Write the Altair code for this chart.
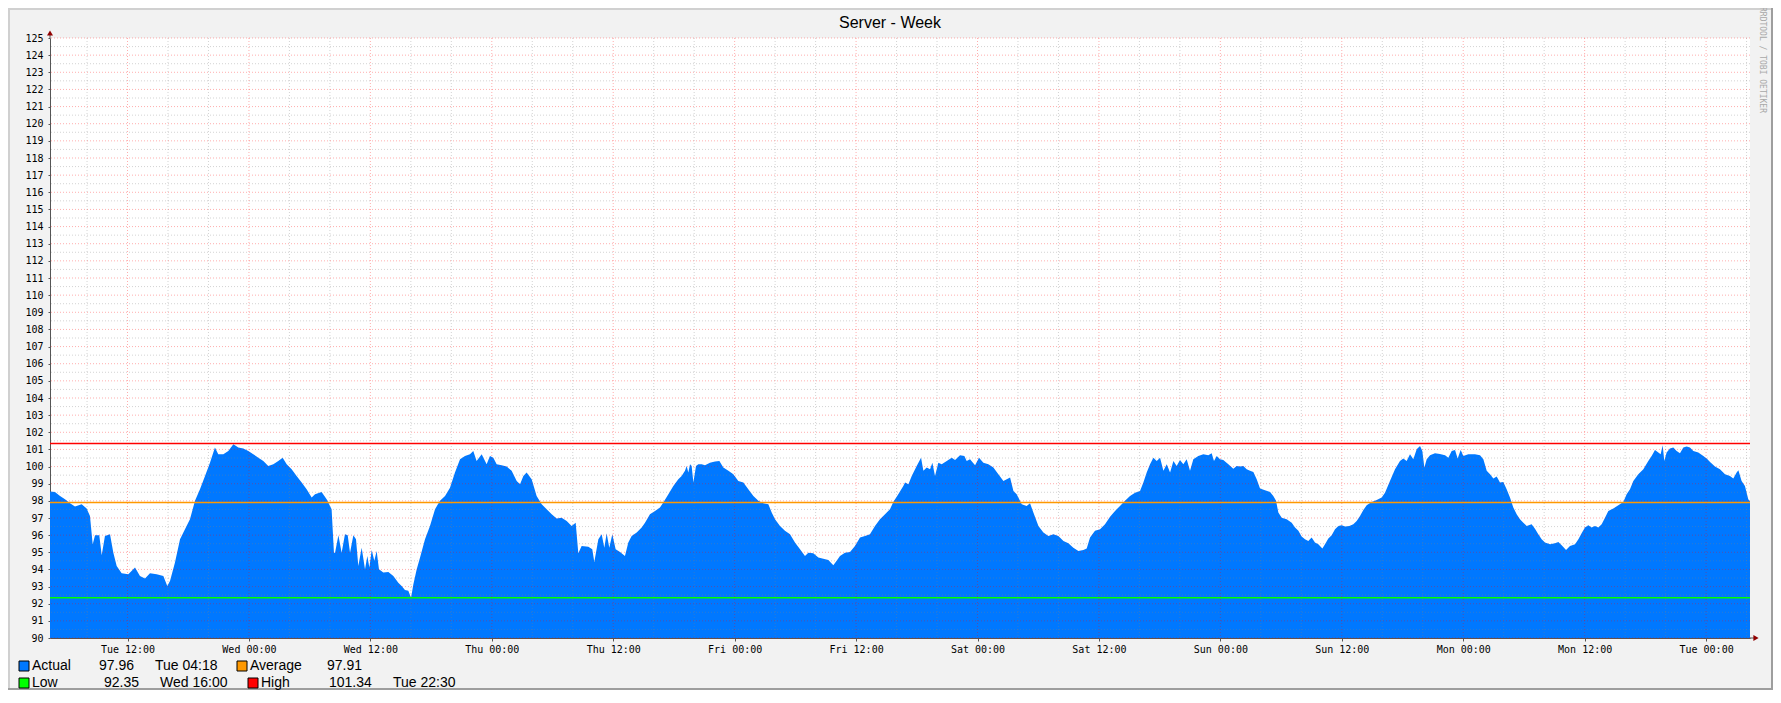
import altair as alt
import pandas as pd

# ---------------- text ----------------
title_text = "Server - Week"
credit_text = "RRDTOOL / TOBI OETIKER"
day_names = ["Tue", "Wed", "Thu", "Fri", "Sat", "Sun", "Mon", "Tue"]

# time axis: hours counted from Tue 00:00 of the first day
x_start, x_end = 4.34, 172.34
y_min, y_max = 90, 125

# ---------------- series ----------------
hours_a = [4.0, 4.34, 4.83, 5.33, 5.82, 6.32, 6.81, 7.47, 7.96, 8.29,
           8.56, 8.79, 9.21, 9.45, 9.77, 10.27, 10.60, 10.93, 11.42, 12.08,
           12.74, 13.23, 13.73, 14.22, 14.88, 15.54, 15.93, 16.20, 16.69, 17.19,
           17.68, 18.17, 18.67, 19.16, 19.66, 20.15, 20.64, 20.97, 21.47, 21.96,
           22.46, 22.95, 23.44, 23.94, 24.43, 24.93, 25.42, 25.91, 26.41, 26.90,
           27.33, 27.73, 28.22, 28.71, 29.21, 29.70, 30.20, 30.53, 31.18, 31.68,
           32.17, 32.40]
values_a = [98.5, 98.54, 98.52, 98.29, 98.09, 97.86, 97.67, 97.80, 97.55, 97.12,
            95.47, 95.99, 95.99, 94.83, 95.95, 96.05, 94.98, 94.20, 93.78, 93.72,
            94.11, 93.62, 93.47, 93.78, 93.72, 93.62, 93.04, 93.33, 94.40, 95.76,
            96.34, 96.93, 98.00, 98.68, 99.45, 100.23, 101.11, 100.72, 100.72, 100.91,
            101.30, 101.11, 101.05, 100.91, 100.72, 100.52, 100.33, 100.04, 100.13, 100.33,
            100.52, 100.13, 99.84, 99.45, 99.07, 98.68, 98.19, 98.38, 98.52, 98.09,
            97.51, 94.98]

hours_b = [32.51, 32.84, 33.16, 33.49, 33.76, 33.99, 34.32, 34.58, 34.81, 35.14,
           35.47, 35.70, 35.90, 36.13, 36.39, 36.62, 36.85, 37.28, 37.78, 38.27,
           38.76, 39.09, 39.42, 39.75, 40.02, 40.25, 40.58, 40.91, 41.40, 41.89,
           42.39, 42.88, 43.38, 43.87, 44.36, 44.86, 45.35, 45.84, 46.17, 46.50,
           47.00, 47.49, 47.82, 48.15, 48.48, 48.97, 49.47, 49.96, 50.46, 50.79,
           51.12, 51.44, 51.94, 52.43, 52.93, 53.42, 53.92, 54.41, 54.90, 55.40,
           55.89, 56.29, 56.55, 56.88, 57.54, 57.93, 58.13, 58.53, 58.86, 59.12,
           59.35, 59.61, 59.91, 60.24, 60.67]
values_b = [94.98, 95.99, 94.98, 96.05, 95.99, 94.98, 95.99, 95.76, 94.20, 95.27,
            94.01, 94.79, 94.11, 95.14, 94.50, 95.08, 94.01, 93.82, 93.85, 93.62,
            93.23, 93.04, 92.80, 92.75, 92.35, 93.13, 94.01, 94.69, 95.76, 96.54,
            97.51, 98.00, 98.29, 98.77, 99.65, 100.43, 100.62, 100.72, 100.91, 100.33,
            100.72, 100.13, 100.62, 100.52, 100.13, 100.08, 100.00, 99.75, 99.16, 98.97,
            99.45, 99.65, 99.26, 98.29, 97.80, 97.51, 97.22, 96.97, 97.02, 96.83,
            96.54, 96.73, 94.94, 95.37, 95.33, 95.18, 94.44, 95.76, 96.05, 95.27,
            96.11, 95.27, 96.05, 95.18, 95.02]

hours_c = [61.16, 61.49, 61.82, 62.32, 62.81, 63.14, 63.63, 64.13, 64.62, 64.95,
           65.45, 65.94, 66.43, 66.76, 67.09, 67.26, 67.42, 67.59, 67.75, 67.92,
           68.18, 68.41, 68.74, 69.07, 69.56, 70.06, 70.49, 70.88, 71.38, 71.87,
           72.36, 72.86, 73.35, 73.85, 74.34, 74.83, 75.33, 75.66, 75.99, 76.48,
           76.97, 77.47, 77.96, 78.46, 78.95, 79.28, 79.77, 80.27, 80.76, 81.26,
           81.75, 82.08, 82.41, 82.90, 83.40, 83.89, 84.39, 84.88, 85.37, 85.87,
           86.36, 86.86, 87.35, 87.68, 88.17, 88.67]
values_c = [94.79, 95.57, 95.95, 96.15, 96.44, 96.73, 97.22, 97.41, 97.61, 97.90,
            98.38, 98.87, 99.26, 99.45, 99.75, 100.04, 99.65, 100.13, 100.04, 99.07,
            100.04, 100.13, 100.13, 100.08, 100.23, 100.29, 100.33, 99.94, 99.75, 99.55,
            99.16, 99.07, 98.68, 98.29, 98.00, 97.86, 97.80, 97.32, 96.93, 96.54,
            96.25, 96.05, 95.57, 95.18, 94.79, 94.98, 94.94, 94.69, 94.63, 94.55,
            94.24, 94.50, 94.79, 94.98, 95.02, 95.37, 95.86, 95.95, 96.05, 96.54,
            96.93, 97.22, 97.51, 97.94, 98.38, 98.87]

hours_d = [88.84, 89.17, 89.50, 89.99, 90.42, 90.65, 90.98, 91.31, 91.54, 91.80,
           92.13, 92.46, 92.96, 93.45, 93.78, 94.27, 94.70, 94.93, 95.26, 95.76,
           96.15, 96.58, 97.07, 97.57, 98.06, 98.56, 98.89, 99.22, 99.55, 99.87,
           100.37, 100.86, 101.19, 101.52, 102.02, 102.51, 103.00, 103.50, 103.99, 104.49,
           104.98, 105.47, 105.97, 106.46, 106.79, 107.12, 107.61, 108.11, 108.60, 109.10,
           109.59, 110.08, 110.58, 111.07, 111.57, 112.06, 112.39, 112.72, 113.05, 113.38,
           113.71, 114.04, 114.37, 114.70, 115.03, 115.36, 115.68, 116.01, 116.34, 116.67]
values_d = [99.07, 98.97, 99.45, 100.04, 100.52, 99.75, 99.94, 99.84, 100.23, 99.45,
            100.23, 100.13, 100.33, 100.52, 100.39, 100.66, 100.62, 100.33, 100.43, 100.08,
            100.52, 100.23, 100.13, 99.94, 99.55, 99.16, 99.26, 99.36, 98.58, 98.38,
            97.80, 97.70, 97.86, 97.32, 96.54, 96.15, 95.95, 96.05, 95.95, 95.66,
            95.53, 95.27, 95.08, 95.14, 95.22, 95.86, 96.25, 96.34, 96.63, 97.08,
            97.41, 97.70, 98.00, 98.29, 98.48, 98.58, 99.07, 99.65, 100.13, 100.52,
            100.33, 100.52, 99.75, 100.13, 99.65, 100.33, 100.04, 100.39, 100.13, 100.43]

hours_e = [117.00, 117.33, 117.82, 118.32, 118.81, 119.14, 119.37, 119.64, 119.96, 120.29,
           120.79, 121.28, 121.61, 121.94, 122.27, 122.60, 122.93, 123.26, 123.59, 123.92,
           124.41, 124.91, 125.23, 125.50, 125.73, 126.06, 126.55, 127.05, 127.38, 127.71,
           128.03, 128.36, 128.69, 129.02, 129.35, 129.68, 130.08, 130.34, 130.67, 131.00,
           131.33, 131.66, 131.99, 132.32, 132.74, 133.14, 133.47, 133.80, 134.13, 134.46,
           134.95, 135.45, 135.94, 136.27, 136.76, 137.26, 137.75, 138.08, 138.41, 138.74,
           139.07, 139.40, 139.73, 139.96, 140.16, 140.39, 140.72, 141.21, 141.70, 142.20,
           142.53, 142.86, 143.19, 143.45, 143.75, 144.01, 144.50]
values_e = [99.75, 100.43, 100.62, 100.72, 100.66, 100.78, 100.33, 100.62, 100.43, 100.39,
            100.13, 99.88, 100.04, 100.00, 100.04, 99.84, 99.75, 99.69, 99.26, 98.72,
            98.62, 98.52, 98.29, 98.00, 97.32, 97.02, 96.93, 96.73, 96.44, 96.25,
            95.92, 95.76, 95.66, 95.86, 95.57, 95.47, 95.22, 95.47, 95.80, 95.99,
            96.34, 96.54, 96.58, 96.50, 96.54, 96.63, 96.83, 97.12, 97.47, 97.74,
            97.94, 98.05, 98.19, 98.48, 99.16, 99.84, 100.33, 100.47, 100.33, 100.72,
            100.43, 101.01, 101.20, 100.91, 99.94, 100.43, 100.66, 100.78, 100.74, 100.66,
            100.52, 100.91, 100.97, 100.47, 100.97, 100.62, 100.72]

hours_f = [144.67, 145.16, 145.66, 145.99, 146.32, 146.65, 146.98, 147.31, 147.63, 147.96,
           148.29, 148.62, 148.95, 149.28, 149.61, 149.94, 150.27, 150.76, 151.09, 151.42,
           151.75, 152.08, 152.58, 153.07, 153.40, 153.73, 154.16, 154.55, 155.05, 155.38,
           155.70, 156.03, 156.36, 156.69, 157.02, 157.35, 157.68, 158.01, 158.34, 158.83,
           159.33, 159.82, 160.15, 160.48, 160.81, 161.30, 161.80, 162.29, 162.62, 162.95,
           163.28, 163.51, 163.71, 163.87, 164.10, 164.43, 164.76, 165.09, 165.42, 165.75,
           166.08, 166.41, 166.74, 167.23, 167.73, 168.06, 168.39, 168.88, 169.37, 169.87,
           170.36, 170.69, 171.02, 171.19, 171.51, 171.84, 172.17, 172.34, 172.60]
values_f = [100.72, 100.72, 100.66, 100.43, 99.75, 99.55, 99.30, 99.42, 99.07, 99.10,
            98.68, 98.19, 97.61, 97.22, 96.93, 96.73, 96.54, 96.63, 96.38, 96.05,
            95.76, 95.57, 95.47, 95.53, 95.60, 95.41, 95.14, 95.37, 95.47, 95.76,
            96.11, 96.44, 96.58, 96.44, 96.54, 96.44, 96.63, 97.02, 97.41, 97.55,
            97.74, 97.94, 98.38, 98.68, 99.16, 99.55, 99.84, 100.33, 100.62, 100.97,
            100.82, 100.72, 101.24, 100.33, 100.82, 101.05, 101.11, 100.91, 100.78, 101.11,
            101.17, 101.11, 100.91, 100.82, 100.62, 100.47, 100.27, 100.00, 99.84, 99.55,
            99.45, 99.30, 99.65, 99.78, 99.16, 98.87, 98.09, 97.96, 97.96]

# ---------------- legend / summary lines ----------------
legend_names = ["Actual", "Average", "Low", "High"]
legend_colors = ["#0078FF", "#FF9900", "#00FF00", "#FF0000"]
legend_values = ["97.96", "97.91", "92.35", "101.34"]
legend_times = ["Tue 04:18", "", "Wed 16:00", "Tue 22:30"]
average_level = 97.91
low_level = 92.35
high_level = 101.34

# grid / tick positions
x_major = list(range(12, 169, 12))
x_minor = [h for h in range(8, 173, 4) if h % 12 != 0]
y_major = list(range(y_min, y_max + 1))
y_minor = [v + 0.5 for v in range(y_min, y_max)]

# ---------------- build ----------------
hours = hours_a + hours_b + hours_c + hours_d + hours_e + hours_f
values = values_a + values_b + values_c + values_d + values_e + values_f
series = pd.DataFrame({"hour": hours, "value": values})

xscale = alt.Scale(domain=[x_start, x_end], nice=False, zero=False)
yscale = alt.Scale(domain=[y_min, y_max], nice=False, zero=False)
label_expr = (f"{day_names}[floor(datum.value / 24)] + ' ' + "
              "(datum.value % 24 == 0 ? '00:00' : '12:00')")
xaxis = alt.Axis(values=x_major, labelExpr=label_expr, title=None, grid=False,
                 tickSize=3, tickColor="#555555", domainColor="#555555",
                 labelFont="DejaVu Sans Mono", labelFontSize=10, labelColor="#000000",
                 labelPadding=3, labelFlush=False, labelOverlap=False)
yaxis = alt.Axis(values=y_major, title=None, grid=False, tickSize=2,
                 tickColor="#555555", domainColor="#555555",
                 labelFont="DejaVu Sans Mono", labelFontSize=10, labelColor="#000000",
                 labelPadding=5, labelOverlap=False, labelFlush=False)

X = lambda: alt.X("hour:Q", scale=xscale, axis=xaxis)
Y = lambda: alt.Y("value:Q", scale=yscale, axis=yaxis)

area = alt.Chart(series).mark_area(color="#0078FF", clip=True, interpolate="linear").encode(
    x=X(), y=Y(), y2=alt.datum(y_min))

def hgrid(levels, color, opacity):
    return alt.Chart(pd.DataFrame({"value": levels})).mark_rule(
        color=color, opacity=opacity, strokeDash=[1, 2], strokeWidth=1).encode(y=Y())

def vgrid(levels, color, opacity):
    return alt.Chart(pd.DataFrame({"hour": levels})).mark_rule(
        color=color, opacity=opacity, strokeDash=[1, 2], strokeWidth=1).encode(x=X())

grid = [hgrid(y_minor, "#808080", 0.35), vgrid(x_minor, "#808080", 0.35),
        hgrid(y_major, "#FF0000", 0.32), vgrid(x_major, "#FF0000", 0.32)]

def hrule(level, color):
    return alt.Chart(pd.DataFrame({"value": [level]})).mark_rule(
        color=color, strokeWidth=1.5).encode(y=Y())

hrules = [hrule(low_level, legend_colors[2]), hrule(average_level, legend_colors[1]),
          hrule(high_level, legend_colors[3])]

one = pd.DataFrame({"k": [0]})

def text(txt, x, y, size=14, font="Liberation Sans", color="#000000", align="left", angle=0):
    return alt.Chart(one).mark_text(align=align, baseline="middle", font=font,
                                    fontSize=size, color=color, angle=angle).encode(
        x=alt.value(x), y=alt.value(y), text=alt.value(txt))

def seg(x1, x2, y1, y2, color, width=1):
    return alt.Chart(one).mark_rule(color=color, strokeWidth=width).encode(
        x=alt.value(x1), x2=alt.value(x2), y=alt.value(y1), y2=alt.value(y2))

def box(x, y, color):
    return alt.Chart(one).mark_rect(color=color, stroke="#000000", strokeWidth=1).encode(
        x=alt.value(x), x2=alt.value(x + 10), y=alt.value(y - 5), y2=alt.value(y + 5))

decor = []
# frame of the canvas
decor += [seg(-41, -41, -30, 652, "#D0D0D0", 2), seg(-42, 1723, -29, -29, "#D0D0D0", 2),
          seg(1722, 1722, -30, 652, "#9E9E9E", 2), seg(-42, 1723, 651, 651, "#9E9E9E", 2)]
# axis extensions and arrows
decor += [seg(0, 0, -5, 0, "#555555"), seg(1700, 1705, 600, 600, "#555555")]
decor.append(alt.Chart(one).mark_point(shape="triangle-up", filled=True, size=36,
                                       color="#900000", opacity=1).encode(
    x=alt.value(0), y=alt.value(-5)))
decor.append(alt.Chart(one).mark_point(shape="triangle-right", filled=True, size=36,
                                       color="#900000", opacity=1).encode(
    x=alt.value(1706), y=alt.value(600)))
# title and credit
decor.append(text(title_text, 840, -15, size=16, align="center"))
decor.append(text(credit_text, 1712, 22, size=8, font="DejaVu Sans Mono",
                  color="#A8A8A8", align="center", angle=90))

# legend layout: (box x, name x, value x, time x, row y) in view pixels
legend_layout = [(-31, -18, 49, 105, 628), (187, 200, 277, 0, 628),
                 (-31, -18, 54, 110, 645), (198, 211, 279, 343, 645)]
for name, col, val, tm, (bx, nx, vx, tx, ry) in zip(
        legend_names, legend_colors, legend_values, legend_times, legend_layout):
    decor.append(box(bx, ry, col))
    decor.append(text(name, nx, ry))
    decor.append(text(val, vx, ry))
    if tm:
        decor.append(text(tm, tx, ry))

chart = alt.layer(area, *grid, *hrules, *decor).properties(
    width=1700, height=600,
    background="#F2F2F2",
    padding={"left": 42, "top": 30, "right": 23, "bottom": 52},
    autosize=alt.AutoSizeParams(type="none"),
).configure_view(stroke=None, fill="#FFFFFF")

chart.save("out.html", embed_options={"renderer": "svg", "actions": False})
